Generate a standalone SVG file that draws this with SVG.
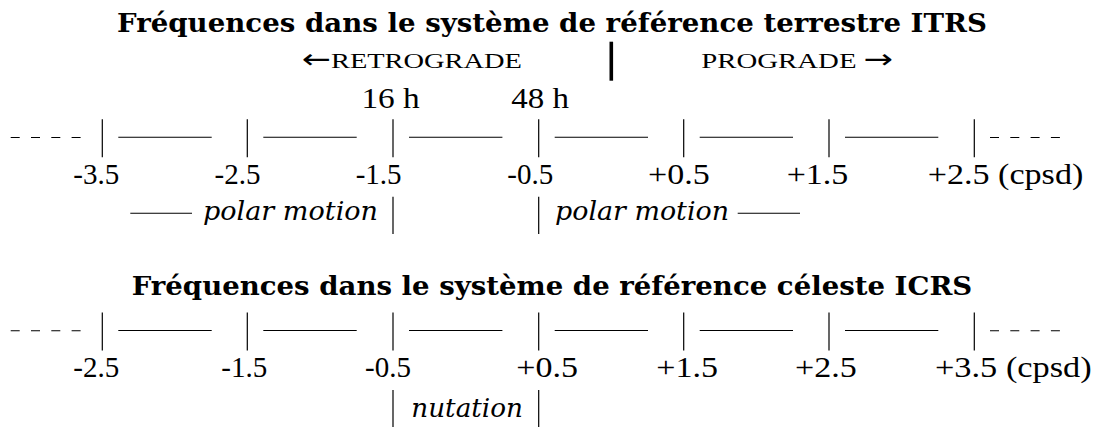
<svg xmlns="http://www.w3.org/2000/svg" width="1103" height="427" viewBox="0 0 1103 427">
<style>
.t{font-family:"DejaVu Serif","Liberation Serif",serif;font-weight:bold;font-size:26px;fill:#000}
.n{font-family:"Liberation Serif","DejaVu Serif",serif;font-size:29px;fill:#000}
.sc{font-family:"Liberation Serif","DejaVu Serif",serif;font-size:22px;fill:#000}
.ar{font-family:"DejaVu Sans",sans-serif;font-size:27px}
.i{font-family:"DejaVu Serif","Liberation Serif",serif;font-style:italic;font-size:26px;fill:#000}
.m{text-anchor:middle}
.tk{stroke:#000;stroke-width:1.2;fill:none}
.ln{stroke:#000;stroke-width:1.1;fill:none}
.ds{stroke:#000;stroke-width:1.1;stroke-dasharray:9 11.3;fill:none}
</style>
<defs>
<g id="axis">
<line class="ds" x1="10.7" y1="18.2" x2="82" y2="18.2"/>
<line class="tk" x1="102.3" y1="0" x2="102.3" y2="38"/>
<line class="ln" x1="118.3" y1="18" x2="211.7" y2="18"/>
<line class="tk" x1="247.3" y1="0" x2="247.3" y2="38"/>
<line class="ln" x1="263.3" y1="18" x2="356.7" y2="18"/>
<line class="tk" x1="393" y1="0" x2="393" y2="38"/>
<line class="ln" x1="409" y1="18" x2="502.4" y2="18"/>
<line class="tk" x1="538.7" y1="0" x2="538.7" y2="38"/>
<line class="ln" x1="554.7" y1="18" x2="648" y2="18"/>
<line class="tk" x1="683.7" y1="0" x2="683.7" y2="38"/>
<line class="ln" x1="699.7" y1="18" x2="793" y2="18"/>
<line class="tk" x1="829" y1="0" x2="829" y2="38"/>
<line class="ln" x1="845" y1="18" x2="938.3" y2="18"/>
<line class="tk" x1="974.3" y1="0" x2="974.3" y2="38"/>
<line class="ds" x1="990" y1="18.2" x2="1061.5" y2="18.2"/>
</g>
</defs>

<g id="itrs-title">
<text class="t" x="117" y="32" textLength="870" lengthAdjust="spacingAndGlyphs">Fréquences dans le système de référence terrestre ITRS</text>
</g>

<g id="direction">
<text class="sc" x="301.7" y="68.3" textLength="220.3" lengthAdjust="spacingAndGlyphs"><tspan class="ar">←</tspan>RETROGRADE</text>
<line x1="611.3" y1="41.7" x2="611.3" y2="80.7" stroke="#000" stroke-width="3.6"/>
<text class="sc" x="701.3" y="68.3" textLength="192" lengthAdjust="spacingAndGlyphs">PROGRADE <tspan class="ar">→</tspan></text>
</g>

<g id="periods">
<text class="n" x="361.4" y="108.3" textLength="58.3" lengthAdjust="spacingAndGlyphs">16 h</text>
<text class="n" x="511.3" y="108.3" textLength="57.7" lengthAdjust="spacingAndGlyphs">48 h</text>
</g>

<g id="itrs-axis">
<use href="#axis" x="0" y="119.3"/>
</g>

<g id="itrs-labels">
<text class="n m" x="96.2" y="184">-3.5</text>
<text class="n m" x="237.5" y="184">-2.5</text>
<text class="n m" x="378.6" y="184">-1.5</text>
<text class="n m" x="530.2" y="184">-0.5</text>
<text class="n" x="648" y="184" textLength="61.7" lengthAdjust="spacingAndGlyphs">+0.5</text>
<text class="n" x="786.7" y="184" textLength="61.6" lengthAdjust="spacingAndGlyphs">+1.5</text>
<text class="n" x="927.7" y="184" textLength="155.6" lengthAdjust="spacingAndGlyphs">+2.5 (cpsd)</text>
</g>

<g id="polar-motion-retro">
<line class="ln" x1="130.3" y1="213.3" x2="192" y2="213.3"/>
<text class="i" x="203" y="220" textLength="175" lengthAdjust="spacingAndGlyphs">polar motion</text>
<line class="tk" x1="393" y1="196.7" x2="393" y2="234"/>
</g>

<g id="polar-motion-pro">
<line class="tk" x1="538.7" y1="196.7" x2="538.7" y2="234"/>
<text class="i" x="555" y="220" textLength="174" lengthAdjust="spacingAndGlyphs">polar motion</text>
<line class="ln" x1="737.7" y1="213.3" x2="800" y2="213.3"/>
</g>

<g id="icrs-title">
<text class="t" x="131.7" y="295" textLength="840.6" lengthAdjust="spacingAndGlyphs">Fréquences dans le système de référence céleste ICRS</text>
</g>

<g id="icrs-axis">
<use href="#axis" x="0" y="312.5"/>
</g>

<g id="icrs-labels">
<text class="n m" x="96.2" y="377.3">-2.5</text>
<text class="n m" x="244.2" y="377.3">-1.5</text>
<text class="n m" x="388" y="377.3">-0.5</text>
<text class="n" x="516.3" y="377.3" textLength="61.7" lengthAdjust="spacingAndGlyphs">+0.5</text>
<text class="n" x="656.3" y="377.3" textLength="61.7" lengthAdjust="spacingAndGlyphs">+1.5</text>
<text class="n" x="795" y="377.3" textLength="61.7" lengthAdjust="spacingAndGlyphs">+2.5</text>
<text class="n" x="935" y="377.3" textLength="156.7" lengthAdjust="spacingAndGlyphs">+3.5 (cpsd)</text>
</g>

<g id="nutation">
<line class="tk" x1="393" y1="390" x2="393" y2="428"/>
<text class="i" x="411.3" y="416.7" textLength="111.7" lengthAdjust="spacingAndGlyphs">nutation</text>
<line class="tk" x1="538.7" y1="390" x2="538.7" y2="428"/>
</g>
</svg>
